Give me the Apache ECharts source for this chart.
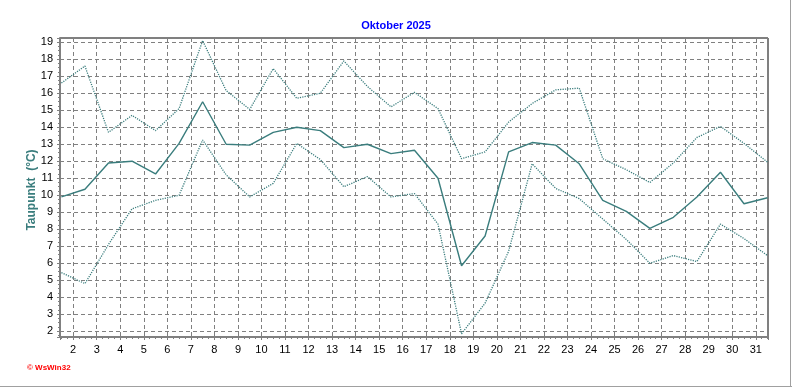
<!DOCTYPE html>
<html>
<head>
<meta charset="utf-8">
<script src="https://cdn.jsdelivr.net/npm/echarts@6/dist/echarts.min.js"></script>
<style>
html,body{margin:0;padding:0;background:#fff;}
#c{width:792px;height:387px;}
</style>
</head>
<body>
<div id="c"></div>
<script>
// Days of October 2025 (values plotted at midday of each day)
var days = [1,2,3,4,5,6,7,8,9,10,11,12,13,14,15,16,17,18,19,20,21,22,23,24,25,26,27,28,29,30,31];
// Daily maximum dew point (°C)
var dewMax = [16.6,17.6,13.7,14.7,13.8,15.1,19.1,16.15,15.05,17.45,15.7,16.0,17.9,16.4,15.2,16.05,15.1,12.15,12.55,14.3,15.4,16.2,16.3,12.15,11.5,10.75,11.9,13.4,14.05,13.05,11.95];
// Daily mean dew point (°C)
var dewMean = [9.9,10.35,11.9,12.0,11.25,13.05,15.5,13.0,12.95,13.7,14.0,13.8,12.8,13.0,12.45,12.65,11.0,5.85,7.6,12.55,13.1,12.95,11.85,9.7,9.05,8.05,8.7,9.9,11.35,9.5,9.85];
// Daily minimum dew point (°C)
var dewMin = [5.45,4.8,7.1,9.2,9.7,10.0,13.25,11.2,9.9,10.7,13.05,12.1,10.5,11.1,9.9,10.1,8.3,1.85,3.65,6.7,11.85,10.4,9.8,8.6,7.4,6.0,6.45,6.1,8.3,7.45,6.45];

var titleText = 'Oktober 2025';
var yName = 'Taupunkt  (°C)';
var teal = '#3a7d7d';

function pts(arr){ return days.map(function(d,i){ return [d + 0.5, arr[i]]; }); }
function intLabel(v){ return Math.abs(v - Math.round(v)) < 1e-6 ? String(Math.round(v)) : ''; }

var chart = echarts.init(document.getElementById('c'), null, {renderer:'canvas'});
chart.setOption({
  animation:false,
  backgroundColor:'#ffffff',
  title:{
    text:titleText, left:'center', top:15,
    textStyle:{color:'#0000ff', fontSize:11, fontWeight:'bold', fontFamily:'Liberation Sans, Arial, sans-serif'}
  },
  grid:{left:60, right:24, top:38, bottom:50, show:true, borderColor:'#000', borderWidth:1, backgroundColor:'transparent'},
  xAxis:{
    type:'value', min:1.44, max:31.52, splitNumber:30, minInterval:1, maxInterval:1,
    axisLine:{show:true, onZero:false, lineStyle:{color:'#808080', width:2}},
    axisTick:{show:true, length:3, lineStyle:{color:'#808080'}},
    minorTick:{show:true, splitNumber:4, length:2, lineStyle:{color:'#808080'}},
    splitLine:{show:true, lineStyle:{color:'#808080', type:[4,3], width:1}},
    axisLabel:{formatter:intLabel, color:'#000', fontSize:11, fontFamily:'Liberation Sans, Arial, sans-serif', margin:7, showMinLabel:true, showMaxLabel:true}
  },
  yAxis:{
    type:'value', min:1.66, max:19.25, splitNumber:18, minInterval:1, maxInterval:1,
    axisLine:{show:true, lineStyle:{color:'#808080', width:2}},
    axisTick:{show:true, length:3, lineStyle:{color:'#808080'}},
    minorTick:{show:true, splitNumber:4, length:2, lineStyle:{color:'#808080'}},
    splitLine:{show:true, lineStyle:{color:'#808080', type:[4,3], width:1}},
    axisLabel:{formatter:intLabel, color:'#000', fontSize:11, fontFamily:'Liberation Sans, Arial, sans-serif', margin:7}
  },
  series:[
    {type:'line', data:pts(dewMax), symbol:'none', lineStyle:{color:teal, width:1.3, type:[1.2,1.2]}, z:3},
    {type:'line', data:pts(dewMean), symbol:'none', lineStyle:{color:teal, width:1.4, type:'solid'}, z:4},
    {type:'line', data:pts(dewMin), symbol:'none', lineStyle:{color:teal, width:1.3, type:[1.2,1.2]}, z:3}
  ],
  graphic:[
    {type:'text', x:32, y:190, rotation:Math.PI/2, style:{text:yName, fill:teal, font:'bold 12px "Liberation Sans", Arial, sans-serif', align:'center', verticalAlign:'middle'}},
    {type:'text', x:27, y:368, style:{text:'© WsWin32', fill:'#ff0000', font:'bold 8px "Liberation Sans", Arial, sans-serif', align:'left', verticalAlign:'middle'}},
    {type:'line', shape:{x1:790.5, y1:0, x2:790.5, y2:387}, style:{stroke:'#a0a0a0', lineWidth:1}},
    {type:'line', shape:{x1:0, y1:386.5, x2:792, y2:386.5}, style:{stroke:'#a0a0a0', lineWidth:1}}
  ]
});
</script>
</body>
</html>
